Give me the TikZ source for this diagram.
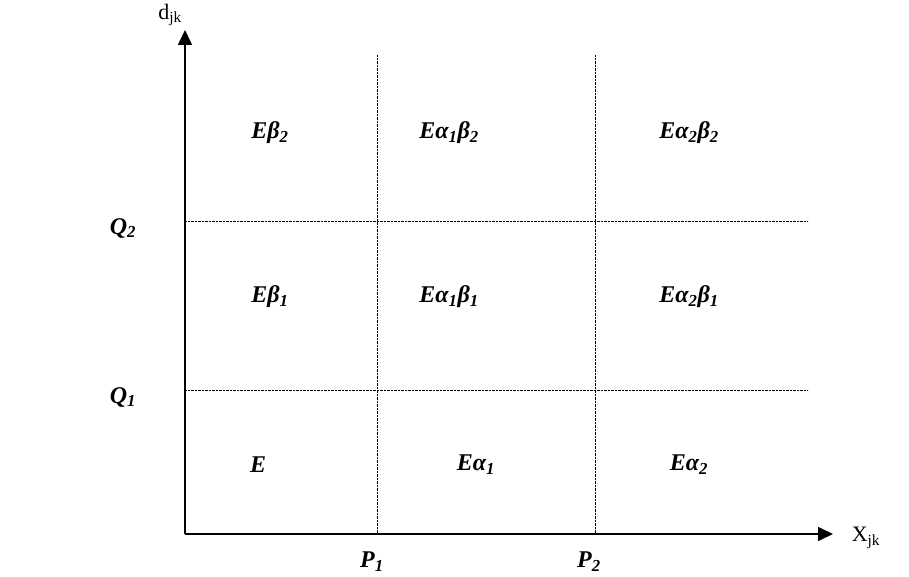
\documentclass[tikz,border=0pt]{standalone}
\usepackage{fontspec}
\setmainfont{Liberation Serif}
\usetikzlibrary{arrows.meta}
\newcommand{\lowidx}[1]{\textsubscript{#1}}
\tikzset{axis/.style={line width=1.6pt,-{Triangle[length=15pt,width=14pt]}},
         grid/.style={densely dotted,thin},
         cell/.style={font=\fontsize{24}{28}\selectfont\bfseries\itshape},
         axlabel/.style={font=\fontsize{22}{26}\selectfont}}

\begin{document}
\begin{tikzpicture}[x=1pt,y=-1pt]
        \useasboundingbox (0,0) rectangle (909,577);
        \coordinate (o) at (185,534);
        \coordinate (ytip) at (185,30);
        \coordinate (xtip) at (833,534);

        % grid
        \draw[grid] (377,55) -- (377,534);
        \draw[grid] (595,55) -- (595,534);
        \draw[grid] (185,221) -- (808,221);
        \draw[grid] (185,390) -- (808,390);

        % axes
        \draw[axis] (o) -- (ytip);
        \draw[axis] (o) -- (xtip);
        \node[axlabel](d)at(170,15){d\lowidx{jk}};
        \node[axlabel](x)at(866,538){X\lowidx{jk}};

        \node[cell](q2)at(123,228){Q\lowidx{2}};
        \node[cell](q1)at(123,397){Q\lowidx{1}};
        \node[cell](p1)at(372,562){P\lowidx{1}};
        \node[cell](p2)at(589,562){P\lowidx{2}};

        \node[cell](e12)at(270,133){Eβ\lowidx{2}};
        \node[cell](e22)at(449,133){Eα\lowidx{1}β\lowidx{2}};
        \node[cell](e32)at(689,133){Eα\lowidx{2}β\lowidx{2}};
        \node[cell](e11)at(270,297){Eβ\lowidx{1}};
        \node[cell](e21)at(449,297){Eα\lowidx{1}β\lowidx{1}};
        \node[cell](e31)at(689,297){Eα\lowidx{2}β\lowidx{1}};
        \node[cell](e10)at(258,465){E};
        \node[cell](e20)at(476,465){Eα\lowidx{1}};
        \node[cell](e30)at(689,465){Eα\lowidx{2}};
    \end{tikzpicture}
\end{document}
